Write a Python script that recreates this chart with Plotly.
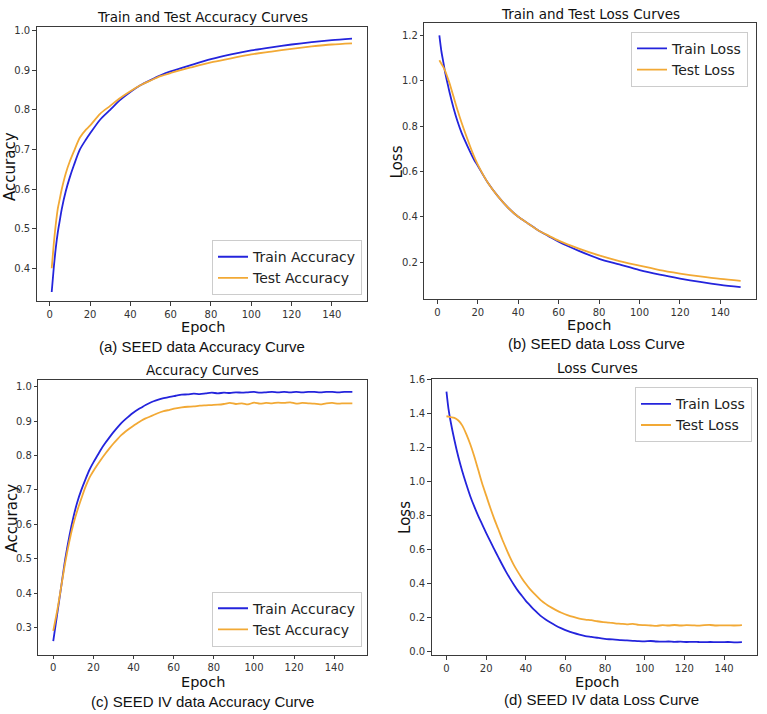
import plotly.graph_objects as go

# ---------------- data ----------------
# (a) SEED accuracy
ep_a = [1, 2, 3, 4, 5, 6, 8, 10, 12, 15, 18, 20, 25, 30, 35, 40, 45, 50, 55, 60,
        70, 80, 90, 100, 110, 120, 130, 140, 150]
train_acc_a = [0.34, 0.40, 0.45, 0.49, 0.52, 0.55, 0.595, 0.63, 0.66, 0.70, 0.725, 0.74,
               0.775, 0.80, 0.825, 0.845, 0.862, 0.875, 0.887, 0.897, 0.913, 0.928,
               0.94, 0.95, 0.958, 0.965, 0.971, 0.976, 0.98]
test_acc_a = [0.40, 0.46, 0.51, 0.55, 0.575, 0.60, 0.64, 0.67, 0.695, 0.73, 0.75, 0.76,
              0.79, 0.81, 0.83, 0.847, 0.862, 0.874, 0.885, 0.893, 0.907, 0.92,
              0.93, 0.94, 0.947, 0.954, 0.96, 0.965, 0.968]

# (b) SEED loss
ep_b = ep_a
train_loss_b = [1.20, 1.13, 1.08, 1.03, 0.99, 0.95, 0.88, 0.82, 0.77, 0.71, 0.655, 0.625,
                0.55, 0.49, 0.44, 0.40, 0.37, 0.34, 0.315, 0.29, 0.25, 0.215,
                0.19, 0.165, 0.145, 0.128, 0.113, 0.10, 0.09]
test_loss_b = [1.09, 1.075, 1.06, 1.04, 1.015, 0.99, 0.93, 0.87, 0.815, 0.74, 0.67, 0.63,
               0.55, 0.49, 0.44, 0.40, 0.37, 0.34, 0.317, 0.295, 0.26, 0.23,
               0.205, 0.185, 0.165, 0.15, 0.137, 0.126, 0.118]

# (c) SEED IV accuracy
ep_c = [0, 2, 4, 6, 8, 10, 12, 14, 16, 18, 20, 22, 24, 26, 28, 30, 32, 34, 36, 38, 40,
        42, 44, 46, 48, 50, 52, 55, 58, 61, 64, 67, 70, 73, 76, 79, 82, 85, 88, 91, 94,
        97, 100, 103, 106, 109, 112, 115, 118, 121, 124, 127, 130, 133, 136, 139, 142,
        145, 149]
train_acc_c = [0.26, 0.34, 0.42, 0.50, 0.565, 0.62, 0.665, 0.70, 0.73, 0.758, 0.78, 0.80,
               0.82, 0.837, 0.853, 0.868, 0.882, 0.895, 0.906, 0.916, 0.925, 0.933, 0.94,
               0.947, 0.953, 0.958, 0.962, 0.967, 0.971, 0.974, 0.977, 0.978, 0.98,
               0.979, 0.981, 0.983, 0.981, 0.983, 0.982, 0.984, 0.983, 0.984, 0.985,
               0.983, 0.984, 0.985, 0.984, 0.985, 0.984, 0.985, 0.984, 0.985, 0.985,
               0.984, 0.985, 0.985, 0.984, 0.985, 0.985]
test_acc_c = [0.29, 0.35, 0.42, 0.49, 0.55, 0.60, 0.64, 0.675, 0.708, 0.735, 0.755, 0.773,
              0.79, 0.806, 0.821, 0.835, 0.848, 0.86, 0.87, 0.879, 0.887, 0.895, 0.902,
              0.908, 0.913, 0.918, 0.923, 0.929, 0.933, 0.937, 0.94, 0.942, 0.943,
              0.945, 0.946, 0.947, 0.948, 0.95, 0.953, 0.95, 0.952, 0.949, 0.954,
              0.951, 0.953, 0.952, 0.954, 0.953, 0.955, 0.951, 0.953, 0.952, 0.951,
              0.949, 0.952, 0.953, 0.951, 0.952, 0.952]

# (d) SEED IV loss
ep_d = [0, 1, 2, 4, 6, 8, 10, 12, 14, 16, 18, 20, 22, 24, 26, 28, 30, 32, 34, 36, 38, 40,
        42, 44, 46, 48, 50, 52, 55, 58, 61, 64, 67, 70, 73, 76, 79, 82, 85, 88, 91, 94,
        97, 100, 103, 106, 109, 112, 115, 118, 121, 124, 127, 130, 133, 136, 139, 142,
        145, 149]
train_loss_d = [1.53, 1.43, 1.36, 1.245, 1.145, 1.06, 0.985, 0.915, 0.855, 0.80, 0.75, 0.70,
                0.652, 0.605, 0.56, 0.515, 0.472, 0.432, 0.395, 0.36, 0.33, 0.30, 0.275,
                0.25, 0.228, 0.207, 0.19, 0.175, 0.155, 0.138, 0.123, 0.111, 0.101,
                0.093, 0.088, 0.083, 0.078, 0.074, 0.072, 0.069, 0.067, 0.065, 0.063,
                0.062, 0.064, 0.061, 0.06, 0.061, 0.059, 0.06, 0.058, 0.059, 0.058,
                0.057, 0.058, 0.057, 0.057, 0.058, 0.056, 0.057]
test_loss_d = [1.385, 1.383, 1.38, 1.375, 1.36, 1.33, 1.28, 1.22, 1.15, 1.07, 0.99, 0.92,
               0.85, 0.785, 0.725, 0.665, 0.61, 0.557, 0.51, 0.47, 0.433, 0.40, 0.37,
               0.345, 0.322, 0.30, 0.282, 0.266, 0.247, 0.23, 0.216, 0.205, 0.196, 0.19,
               0.186, 0.18, 0.175, 0.172, 0.168, 0.165, 0.162, 0.165, 0.158, 0.157,
               0.155, 0.153, 0.157, 0.155, 0.158, 0.155, 0.157, 0.156, 0.154, 0.157,
               0.158, 0.155, 0.156, 0.156, 0.155, 0.157]

x_ticks = [0, 20, 40, 60, 80, 100, 120, 140]
y_ticks_a = [0.4, 0.5, 0.6, 0.7, 0.8, 0.9, 1.0]
y_ticks_b = [0.2, 0.4, 0.6, 0.8, 1.0, 1.2]
y_ticks_c = [0.3, 0.4, 0.5, 0.6, 0.7, 0.8, 0.9, 1.0]
y_ticks_d = [0.0, 0.2, 0.4, 0.6, 0.8, 1.0, 1.2, 1.4, 1.6]

titles = ["Train and Test Accuracy Curves", "Train and Test Loss Curves",
          "Accuracy Curves", "Loss Curves"]
captions = ["(a) SEED data Accuracy Curve", "(b) SEED data Loss Curve",
            "(c) SEED IV data Accuracy Curve", "(d) SEED IV data Loss Curve"]
ylabels = ["Accuracy", "Loss", "Accuracy", "Loss"]

# ---------------- styling / layout ----------------
W, H = 767, 714
BLUE = "#2424dc"
ORANGE = "#f2a935"
FONT = "DejaVu Sans"


def px(x):
    return x / W


def py(y):
    return 1 - y / H


# frame boxes in pixels: left, right, top, bottom
boxes = [(36.7, 367.0, 22.7, 299.0),
         (424.3, 755.7, 18.3, 297.3),
         (38.3, 367.3, 378.3, 656.0),
         (431.7, 756.7, 377.7, 656.7)]
xranges = [[-6.45, 157.45], [-6.45, 157.45], [-7.45, 156.45], [-7.45, 156.45]]
yranges = [[0.317, 1.008], [0.036, 1.254], [0.221, 1.021], [-0.02, 1.604]]
yticks = [y_ticks_a, y_ticks_b, y_ticks_c, y_ticks_d]

series = [
    (ep_a, train_acc_a, test_acc_a, "Train Accuracy", "Test Accuracy"),
    (ep_b, train_loss_b, test_loss_b, "Train Loss", "Test Loss"),
    (ep_c, train_acc_c, test_acc_c, "Train Accuracy", "Test Accuracy"),
    (ep_d, train_loss_d, test_loss_d, "Train Loss", "Test Loss"),
]

fig = go.Figure()
legend_names = ["legend", "legend2", "legend3", "legend4"]
for i, (ex, tr, te, ntr, nte) in enumerate(series):
    xa = "x" if i == 0 else f"x{i+1}"
    ya = "y" if i == 0 else f"y{i+1}"
    fig.add_trace(go.Scatter(x=ex, y=tr, mode="lines", name=ntr, xaxis=xa, yaxis=ya,
                             line=dict(color=BLUE, width=1.8, shape="spline", smoothing=0.8),
                             legend=legend_names[i]))
    fig.add_trace(go.Scatter(x=ex, y=te, mode="lines", name=nte, xaxis=xa, yaxis=ya,
                             line=dict(color=ORANGE, width=1.8, shape="spline", smoothing=0.8),
                             legend=legend_names[i]))

layout = dict(width=W, height=H, margin=dict(l=0, r=0, t=0, b=0),
              paper_bgcolor="white", plot_bgcolor="white",
              font=dict(family=FONT, color="#222"), showlegend=True)

axis_common = dict(showline=True, linecolor="#3a3a3a", linewidth=1, mirror=True,
                   ticks="outside", ticklen=3.5, tickcolor="#3a3a3a", showgrid=False,
                   zeroline=False, tickfont=dict(family=FONT, size=10, color="#333"))

for i in range(4):
    l, r, t, b = boxes[i]
    sx = "" if i == 0 else str(i + 1)
    layout[f"xaxis{sx}"] = dict(axis_common, domain=[px(l), px(r)], range=xranges[i],
                                tickvals=x_ticks, anchor=f"y{sx}")
    layout[f"yaxis{sx}"] = dict(axis_common, domain=[py(b), py(t)], range=yranges[i],
                                tickvals=yticks[i], tickformat=".1f", anchor=f"x{sx}")

legend_common = dict(bgcolor="rgba(255,255,255,0.85)", bordercolor="#cccccc", borderwidth=1,
                     font=dict(family=FONT, size=14, color="#222"), tracegroupgap=0,
                     itemwidth=30)
layout["legend"] = dict(legend_common, x=px(362), y=py(293), xanchor="right", yanchor="bottom")
layout["legend2"] = dict(legend_common, x=px(748), y=py(27), xanchor="right", yanchor="top")
layout["legend3"] = dict(legend_common, x=px(362), y=py(648), xanchor="right", yanchor="bottom")
layout["legend4"] = dict(legend_common, x=px(752), y=py(386), xanchor="right", yanchor="top")

fig.update_layout(**layout)

# annotations: titles, x labels (top edge), captions (bottom edge), y labels
title_pos = [(202, 12), (590, 9), (203, 369), (597, 367)]
xlab_top = [(203, 316), (589, 314), (203, 675), (597, 675)]
cap_bottom = [(202, 354), (596, 351), (203, 713), (601, 711)]
ylab_pos = [(10.5, 163), (397, 159), (11.5, 518), (405, 518)]

ann = []
for i in range(4):
    ann.append(dict(text=titles[i], x=px(title_pos[i][0]), y=py(title_pos[i][1]),
                    xref="paper", yref="paper", showarrow=False, xanchor="center",
                    yanchor="middle", font=dict(family=FONT, size=13.5, color="#111")))
    ann.append(dict(text="Epoch", x=px(xlab_top[i][0]), y=py(xlab_top[i][1]),
                    xref="paper", yref="paper", showarrow=False, xanchor="center",
                    yanchor="top", borderpad=0,
                    font=dict(family=FONT, size=14.5, color="#111")))
    ann.append(dict(text=captions[i], x=px(cap_bottom[i][0]), y=py(cap_bottom[i][1]),
                    xref="paper", yref="paper", showarrow=False, xanchor="center",
                    yanchor="bottom", borderpad=0,
                    font=dict(family="Liberation Sans", size=15, color="#111")))
    ann.append(dict(text=ylabels[i], x=px(ylab_pos[i][0]), y=py(ylab_pos[i][1]),
                    xref="paper", yref="paper", showarrow=False, xanchor="center",
                    yanchor="middle", textangle=-90,
                    font=dict(family=FONT, size=15, color="#111")))
fig.update_layout(annotations=ann)

fig.write_html("out.html")
